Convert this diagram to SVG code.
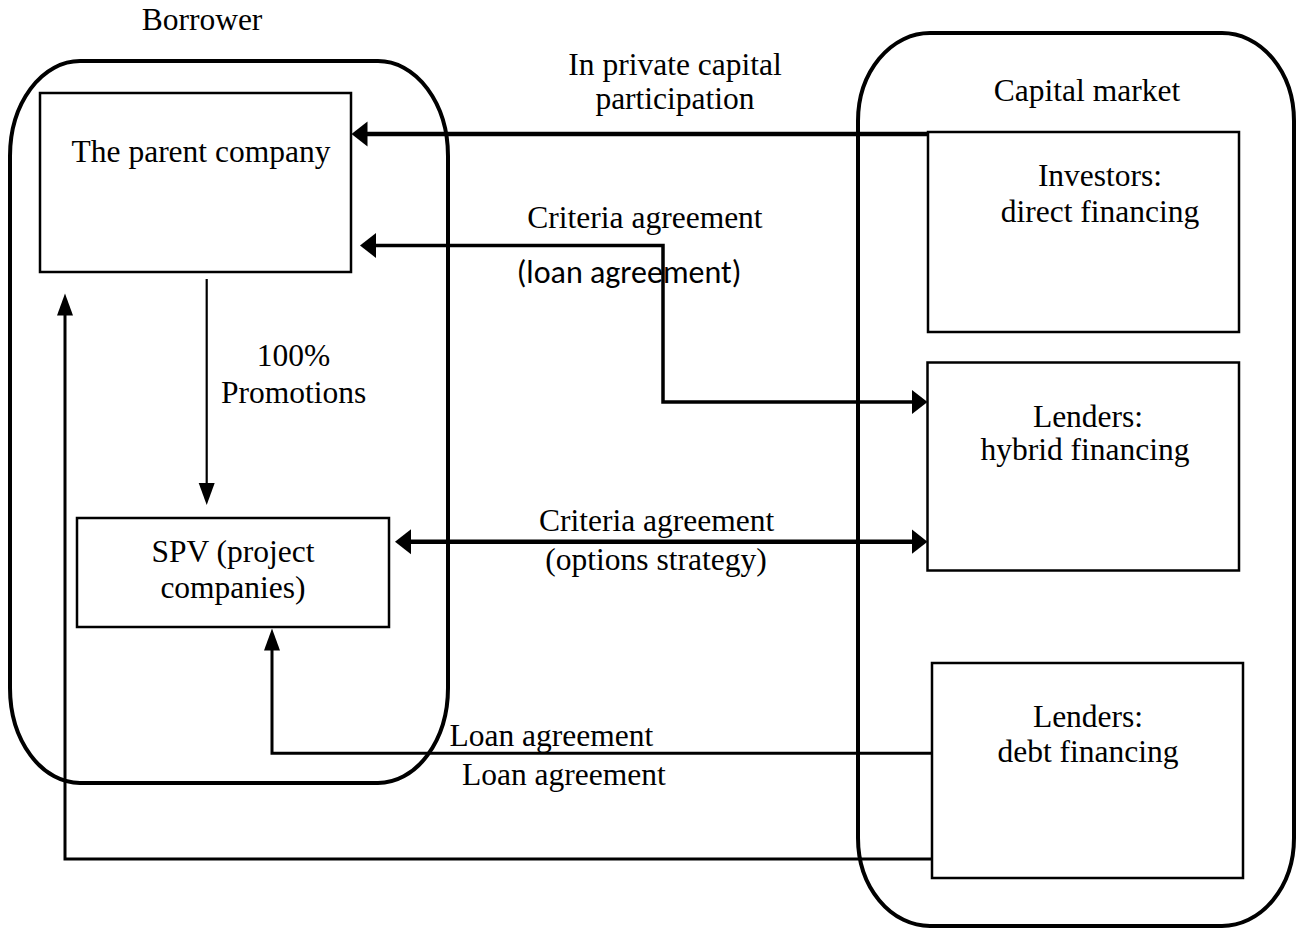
<svg xmlns="http://www.w3.org/2000/svg" width="1297" height="928" viewBox="0 0 1297 928">
<style>
.bg{fill:#fff}
.cont{fill:none;stroke:#000;stroke-width:4}
.box{fill:#fff;stroke:#000;stroke-width:2.5}
.t{font-family:"Liberation Serif","Times New Roman",serif;font-size:31.5px;fill:#000;text-anchor:middle}
.s{font-family:Carlito,Lato,"Liberation Sans",sans-serif;font-size:32px;fill:#000;text-anchor:middle}
.c{fill:none;stroke:#000;stroke-linejoin:miter}
.thick{stroke-width:4.5}
.mid{stroke-width:3.5}
.thin{stroke-width:2.2}
.th3{stroke-width:3}
</style>
<defs>
<marker id="big" markerUnits="userSpaceOnUse" markerWidth="17" markerHeight="26" viewBox="0 -13 17 26" refX="1" refY="0" orient="auto-start-reverse"><path d="M0,-12.5 L16,0 L0,12.5 Z" fill="#000"/></marker>
<marker id="small" markerUnits="userSpaceOnUse" markerWidth="23" markerHeight="18" viewBox="0 -9 23 18" refX="1" refY="0" orient="auto-start-reverse"><path d="M0,-8 L22,0 L0,8 Z" fill="#000"/></marker>
</defs>
<rect class="bg" x="0" y="0" width="1297" height="928"/>

<g id="borrower">
<rect class="cont" x="10" y="61" width="438" height="722" rx="70" ry="95"/>
<text class="t" x="202" y="30">Borrower</text>
</g>
<g id="capital-market">
<rect class="cont" x="858" y="33" width="436" height="893" rx="72" ry="88"/>
<text class="t" x="1087" y="101">Capital market</text>
</g>

<g id="parent">
<rect class="box" x="40" y="93" width="311" height="179"/>
<text class="t" x="201" y="162">The parent company</text>
</g>
<g id="spv">
<rect class="box" x="77" y="518" width="312" height="109"/>
<text class="t" x="233" y="561.7">SPV (project</text>
<text class="t" x="233" y="597.7">companies)</text>
</g>
<g id="investors">
<rect class="box" x="928" y="132" width="311" height="200"/>
<text class="t" x="1100" y="186">Investors:</text>
<text class="t" x="1100" y="221.5">direct financing</text>
</g>
<g id="hybrid">
<rect class="box" x="927.5" y="362.5" width="311.5" height="208"/>
<text class="t" x="1088" y="427">Lenders:</text>
<text class="t" x="1085" y="460">hybrid financing</text>
</g>
<g id="debt">
<rect class="box" x="932" y="663" width="311" height="215"/>
<text class="t" x="1088" y="726.7">Lenders:</text>
<text class="t" x="1088" y="761.7">debt financing</text>
</g>

<g id="connectors">
<path class="c thick" d="M928,134 H366.5" marker-end="url(#big)"/>
<path class="c mid" d="M912.5,402 H663 V245.5 H375" marker-start="url(#big)" marker-end="url(#big)"/>
<path class="c thick" d="M410,541.7 H912.5" marker-start="url(#big)" marker-end="url(#big)"/>
<path class="c thin" d="M206.7,279 V484" marker-end="url(#small)"/>
<path class="c th3" d="M932,753.3 H272 V649.5" marker-end="url(#small)"/>
<path class="c th3" d="M932,859 H65 V314.5" marker-end="url(#small)"/>
<text class="t" x="675" y="75">In private capital</text>
<text class="t" x="675" y="109">participation</text>
<text class="t" x="645" y="228">Criteria agreement</text>
<text class="s" x="629" y="283">(loan agreement)</text>
<text class="t" x="293.5" y="366">100%</text>
<text class="t" x="293.7" y="402.7">Promotions</text>
<text class="t" x="656.6" y="530.7">Criteria agreement</text>
<text class="t" x="656" y="570">(options strategy)</text>
<text class="t" x="551.4" y="745.7">Loan agreement</text>
<text class="t" x="563.8" y="785">Loan agreement</text>
</g>
</svg>
